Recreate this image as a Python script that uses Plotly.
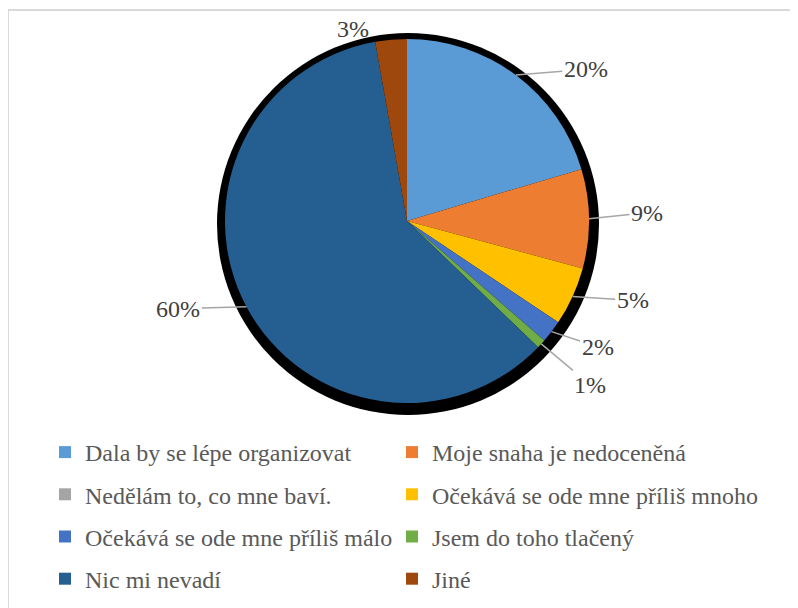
import math

import plotly.graph_objects as go

# the page adds an 8px body margin, so the figure is 8px smaller than the window
PAGE_OFF = 8
W, H = 798 - PAGE_OFF, 608 - PAGE_OFF
FONT = "Liberation Serif, Times New Roman, serif"
LABEL_INK = "#404040"
LEGEND_INK = "#595959"
LEADER = "#a6a6a6"
FRAME = "#d9d9d9"

categories = [
    "Dala by se lépe organizovat",
    "Moje snaha je nedoceněná",
    "Nedělám to, co mne baví.",
    "Očekává se ode mne příliš mnoho",
    "Očekává se ode mne příliš málo",
    "Jsem do toho tlačený",
    "Nic mi nevadí",
    "Jiné",
]
shares = [20.4, 8.8, 0.0, 5.2, 2.0, 0.8, 60.0, 2.8]
colors = ["#5b9bd5", "#ed7d31", "#a5a5a5", "#ffc000",
          "#4472c4", "#70ad47", "#255e91", "#9e480e"]

# label offsets from the slice edge (px) and whether a leader line is drawn
label_offsets = [(70, -6), (58, -6), None, (60, 4), (46, 15), (49, 41), (-68, 2), (-38, -11)]
label_leader = [True, True, False, True, True, True, True, False]

# pie geometry in page pixels
CX, CY, R = 407, 221, 182
SH_CX, SH_CY, SH_R = 408, 224, 191


def px_x(x):
    return (x - PAGE_OFF) / W


def px_y(y):
    return 1 - (y - PAGE_OFF) / H


def dom(cx, cy, r):
    return dict(x=[px_x(cx - r), px_x(cx + r)], y=[px_y(cy + r), px_y(cy - r)])


fig = go.Figure()

# black shadow behind the pie
fig.add_pie(
    values=[1], labels=["shadow"], marker=dict(colors=["#000000"], line=dict(width=0)),
    domain=dom(SH_CX, SH_CY, SH_R), textinfo="none", hoverinfo="skip",
    showlegend=False, sort=False,
)
fig.add_pie(
    values=shares, labels=categories, marker=dict(colors=colors, line=dict(width=0)),
    domain=dom(CX, CY, R), textinfo="none", sort=False, direction="clockwise",
    rotation=0, showlegend=False,
)

# legend entries (two columns as two legends)
for i, (name, col) in enumerate(zip(categories, colors)):
    fig.add_scatter(
        x=[None], y=[None], mode="markers", name=name,
        marker=dict(symbol="square", size=12, color=col),
        legend="legend" if i % 2 == 0 else "legend2",
        legendgroup=name, hoverinfo="skip",
    )

# percentage labels with leader lines
total = sum(shares)
cum = 0.0
annotations = []
for v, off, lead in zip(shares, label_offsets, label_leader):
    mid = (cum + v / 2) / total * 2 * math.pi
    cum += v
    if v == 0:
        continue
    px = CX + R * math.sin(mid)
    py = CY - R * math.cos(mid)
    a = dict(
        x=px_x(px), y=px_y(py), xref="paper", yref="paper",
        xanchor="center", yanchor="middle",
        text=f"{v / total * 100:.0f}%",
        font=dict(family=FONT, size=24, color=LABEL_INK),
    )
    if lead:
        a.update(showarrow=True, ax=off[0], ay=off[1], arrowhead=0,
                 arrowwidth=1.5, arrowcolor=LEADER, standoff=0)
    else:
        a.update(showarrow=False, xshift=off[0], yshift=-off[1])
    annotations.append(a)

legend_style = dict(
    orientation="v", traceorder="grouped", tracegroupgap=8,
    xanchor="left", yanchor="top", y=px_y(430),
    font=dict(family=FONT, size=24, color=LEGEND_INK),
    bgcolor="rgba(0,0,0,0)",
)

fig.update_layout(
    width=W, height=H,
    margin=dict(l=0, r=0, t=0, b=0),
    paper_bgcolor="#ffffff", plot_bgcolor="#ffffff",
    font=dict(family=FONT, color=LEGEND_INK),
    xaxis=dict(visible=False), yaxis=dict(visible=False),
    legend=dict(legend_style, x=px_x(45)),
    legend2=dict(legend_style, x=px_x(392)),
    annotations=annotations,
    shapes=[dict(type="rect", xref="paper", yref="paper",
                 x0=px_x(8), x1=1.02, y0=-0.02, y1=px_y(10),
                 line=dict(color=FRAME, width=2), layer="below")],
)

fig.write_html("out.html")
